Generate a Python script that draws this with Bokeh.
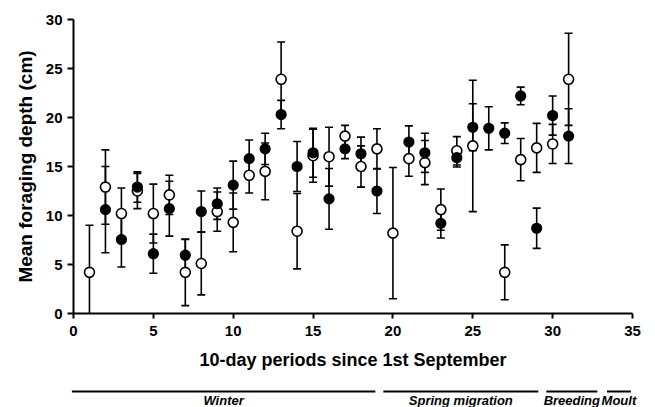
from bokeh.plotting import figure
from bokeh.layouts import column
from bokeh.models import Range1d, FixedTicker, ColumnDataSource
from bokeh.core.properties import value
from bokeh.embed import file_html
from bokeh.resources import INLINE

# ---- data ----
open_periods = [1, 2, 3, 4, 5, 6, 7, 8, 9, 10, 11, 12, 13, 14, 15, 16, 17, 18, 19, 20,
                21, 22, 23, 24, 25, 27, 28, 29, 30, 31]
open_mean = [4.2, 12.9, 10.2, 12.5, 10.2, 12.1, 4.2, 5.1, 10.4, 9.3, 14.1, 14.5, 23.9, 8.4,
             16.1, 16.0, 18.1, 15.0, 16.8, 8.2, 15.8, 15.4, 10.6, 16.6, 17.1, 4.2, 15.7,
             16.9, 17.3, 23.9]
open_err = [4.8, 3.8, 2.6, 1.8, 3.0, 2.0, 3.4, 3.2, 2.0, 3.0, 1.8, 2.9, 3.8, 3.85, 2.7,
            3.0, 1.1, 2.1, 2.05, 6.7, 1.8, 2.25, 2.1, 1.45, 6.7, 2.8, 2.15, 2.5, 2.0, 4.7]

filled_periods = [2, 3, 4, 5, 6, 7, 8, 9, 10, 11, 12, 13, 14, 15, 16, 17, 18, 19,
                  21, 22, 23, 24, 25, 26, 27, 28, 29, 30, 31]
filled_mean = [10.6, 7.55, 12.9, 6.1, 10.7, 5.95, 10.4, 11.2, 13.1, 15.8, 16.8, 20.3, 15.0,
               16.4, 11.7, 16.8, 16.3, 12.5, 17.5, 16.4, 9.2, 15.9, 19.0, 18.9, 18.4, 22.2,
               8.7, 20.2, 18.1]
filled_err = [4.4, 2.8, 1.55, 2.0, 2.8, 1.6, 2.1, 1.6, 2.45, 1.9, 1.6, 1.45, 2.55, 2.5, 3.1,
              1.0, 1.7, 2.3, 1.65, 2.0, 1.5, 0.95, 2.4, 2.2, 1.05, 0.9, 2.05, 2.0, 2.8]

x_ticks = [0, 5, 10, 15, 20, 25, 30, 35]
y_ticks = [0, 5, 10, 15, 20, 25, 30]

phases = ["Winter", "Spring migration", "Breeding", "Moult"]
phase_start = [-0.1, 19.4, 29.6, 33.4]
phase_end = [18.9, 29.1, 32.8, 34.9]

FONT = "Liberation Sans"
W = 655
H1 = 374
H2 = 33
LEFT, RIGHT, TOP = 73, 23, 19
BOTTOM = H1 - 313


def err_source(xs, m, e):
    return ColumnDataSource(dict(
        x=xs, y=m,
        lo=[a - b for a, b in zip(m, e)],
        hi=[a + b for a, b in zip(m, e)],
    ))


src_open = err_source(open_periods, open_mean, open_err)
src_filled = err_source(filled_periods, filled_mean, filled_err)

p = figure(width=W, height=H1, output_backend="svg", toolbar_location=None,
           x_range=Range1d(0, 35), y_range=Range1d(0, 30),
           min_border_left=LEFT, min_border_right=RIGHT, min_border_top=TOP,
           min_border_bottom=BOTTOM)
p.frame_align = False
p.outline_line_color = None
p.background_fill_color = "white"
p.border_fill_color = "white"
p.xgrid.visible = False
p.ygrid.visible = False

for src in (src_open, src_filled):
    p.segment(x0="x", y0="lo", x1="x", y1="hi", source=src, line_color="black",
              line_width=1.6)
    p.scatter(x="x", y="hi", source=src, marker="dash", size=8, line_color="black",
              line_width=1.6)
    p.scatter(x="x", y="lo", source=src, marker="dash", size=8, line_color="black",
              line_width=1.6)

p.scatter(x="x", y="y", source=src_open, marker="circle", size=10,
          fill_color="white", line_color="black", line_width=1.6)
p.scatter(x="x", y="y", source=src_filled, marker="circle", size=10,
          fill_color="black", line_color="black", line_width=1.2)

for ax, ticks in ((p.xaxis, x_ticks), (p.yaxis, y_ticks)):
    ax.ticker = FixedTicker(ticks=ticks)
    ax.minor_tick_line_color = None
    ax.axis_line_width = 2
    ax.major_tick_line_width = 2
    ax.major_tick_in = 0
    ax.major_label_text_font = FONT
    ax.major_label_text_font_style = "bold"
    ax.major_label_text_font_size = "15px"
    ax.major_label_text_color = "black"
    ax.axis_label_text_font = FONT
    ax.axis_label_text_font_style = "bold"
    ax.axis_label_text_color = "black"
    ax.axis_line_color = "black"
    ax.major_tick_line_color = "black"

p.xaxis.major_tick_out = 5
p.yaxis.major_tick_out = 6
p.xaxis.major_label_standoff = 7
p.yaxis.major_label_standoff = 5
p.xaxis.axis_label = "10-day periods since 1st September"
p.yaxis.axis_label = "Mean foraging depth (cm)"
p.xaxis.axis_label_text_font_size = "18px"
p.yaxis.axis_label_text_font_size = "19px"
p.xaxis.axis_label_standoff = 11
p.yaxis.axis_label_standoff = 7

# ---- phase strip ----
k = (W - LEFT - RIGHT) / 35.0
strip = figure(width=W, height=H2, output_backend="svg", toolbar_location=None,
               x_axis_type=None, y_axis_type=None,
               x_range=Range1d(-LEFT / k, 35 + RIGHT / k), y_range=Range1d(0, H2),
               min_border=0, min_border_left=0, min_border_right=0,
               min_border_top=0, min_border_bottom=0)
strip.frame_align = False
strip.outline_line_color = None
strip.xgrid.visible = False
strip.ygrid.visible = False
strip.border_fill_color = "white"

phase_src = ColumnDataSource(dict(
    x0=phase_start, x1=phase_end,
    xm=[(a + b) / 2 for a, b in zip(phase_start, phase_end)],
    name=phases,
))
strip.segment(x0="x0", y0=16, x1="x1", y1=16, source=phase_src, line_color="black",
              line_width=2)
strip.text(x="xm", y=7.5, text="name", source=phase_src, text_align="center",
           text_baseline="middle", text_font=value(FONT),
           text_font_style="bold italic", text_font_size="13px", text_color="black")

layout = column(p, strip, spacing=0)
open("out.html", "w").write(file_html(layout, INLINE))
